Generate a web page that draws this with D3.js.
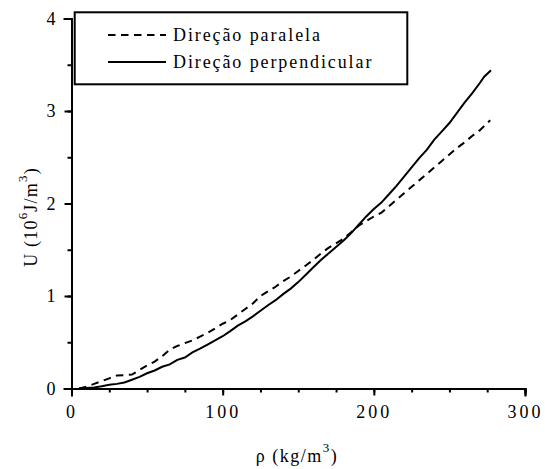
<!DOCTYPE html>
<html>
<head>
<meta charset="utf-8">
<script src="https://cdn.jsdelivr.net/npm/d3@7"></script>
<style>
  body { margin: 0; background: #fff; }
  text { font-family: "Liberation Serif", "Times New Roman", Times, serif; fill: #000; }
</style>
</head>
<body>
<div id="chart-area"></div>
<script>
// density (kg/m3) and energy U (10^6 J/m3)
var rhoParalela = [5, 10, 15, 20, 25, 30, 35, 40, 45, 50, 55, 60, 65, 70, 75, 80, 85, 90, 95, 100,
    105, 110, 115, 120, 125, 130, 135, 140, 145, 150, 155, 160, 165, 170, 175, 180, 185, 190, 195, 200,
    205, 210, 215, 220, 225, 230, 235, 240, 245, 250, 255, 260, 265, 270, 277];
var uParalela = [0.0, 0.02, 0.05, 0.08, 0.11, 0.14, 0.145, 0.15, 0.2, 0.25, 0.29, 0.35, 0.42, 0.46, 0.49, 0.52, 0.56, 0.6, 0.65, 0.7,
    0.74, 0.8, 0.86, 0.92, 1.0, 1.05, 1.1, 1.16, 1.21, 1.27, 1.33, 1.39, 1.46, 1.52, 1.57, 1.62, 1.69, 1.76, 1.81, 1.86,
    1.9, 1.97, 2.04, 2.11, 2.18, 2.25, 2.32, 2.39, 2.46, 2.53, 2.6, 2.66, 2.73, 2.79, 2.9];

var rhoPerp = [5, 10, 15, 20, 25, 30, 35, 40, 45, 50, 55, 60, 65, 70, 75, 80, 85, 90, 95, 100,
    105, 110, 115, 120, 125, 130, 135, 140, 145, 150, 155, 160, 165, 170, 175, 180, 185, 190, 195, 200,
    205, 210, 215, 220, 225, 230, 235, 240, 245, 250, 255, 260, 265, 270, 273, 277.5];
var uPerp = [0.0, 0.005, 0.012, 0.025, 0.04, 0.05, 0.065, 0.095, 0.125, 0.165, 0.195, 0.235, 0.26, 0.31, 0.335, 0.39, 0.43, 0.475, 0.52, 0.565,
    0.62, 0.68, 0.725, 0.78, 0.84, 0.9, 0.955, 1.02, 1.08, 1.15, 1.23, 1.31, 1.39, 1.46, 1.53, 1.6, 1.68, 1.77, 1.86, 1.94,
    2.01, 2.1, 2.19, 2.29, 2.39, 2.49, 2.58, 2.69, 2.78, 2.87, 2.98, 3.09, 3.19, 3.3, 3.37, 3.44];

var seriesNames = ["Direção paralela", "Direção perpendicular"];
var xTicks = [0, 100, 200, 300];
var yTicks = [0, 1, 2, 3, 4];

var svg = d3.select("#chart-area")
    .append("svg")
        .attr("width", 545)
        .attr("height", 469);

var x = d3.scaleLinear().domain([0, 300]).range([71.5, 525]);
var y = d3.scaleLinear().domain([0, 4]).range([388.5, 18.5]);

// minor ticks first, then major ones with labels
svg.append("g")
    .attr("transform", "translate(0,388.5)")
    .call(d3.axisBottom(x).tickValues(d3.range(0, 301, 25)).tickSize(4).tickFormat(""));
svg.append("g")
    .attr("transform", "translate(71.5,0)")
    .call(d3.axisLeft(y).tickValues(d3.range(0, 4.01, 0.5)).tickSize(4).tickFormat(""));

svg.append("g")
    .attr("transform", "translate(0,388.5)")
    .call(d3.axisBottom(x).tickValues(xTicks).tickSize(7).tickPadding(10).tickFormat(d3.format("d")));
svg.append("g")
    .attr("transform", "translate(71.5,0)")
    .call(d3.axisLeft(y).tickValues(yTicks).tickSize(7).tickPadding(6).tickFormat(d3.format("d")));

svg.selectAll(".domain, .tick line")
    .attr("stroke", "#000")
    .attr("stroke-width", 2);
svg.selectAll(".domain").attr("stroke-linecap", "square");
svg.selectAll(".tick text")
    .attr("font-size", 18)
    .attr("letter-spacing", "3px");

var line = d3.line()
    .x(function(d) { return x(d[0]); })
    .y(function(d) { return y(d[1]); });

var dataParalela = d3.zip(rhoParalela, uParalela);
var dataPerp = d3.zip(rhoPerp, uPerp);

svg.append("path")
    .datum(dataParalela)
    .attr("d", line)
    .attr("fill", "none")
    .attr("stroke", "#000")
    .attr("stroke-width", 2)
    .attr("stroke-dasharray", "7.5,5.5");

svg.append("path")
    .datum(dataPerp)
    .attr("d", line)
    .attr("fill", "none")
    .attr("stroke", "#000")
    .attr("stroke-width", 2);

// legend box
var legend = svg.append("g");
legend.append("rect")
    .attr("x", 74.7).attr("y", 12.3)
    .attr("width", 332.6).attr("height", 72)
    .attr("fill", "none")
    .attr("stroke", "#000")
    .attr("stroke-width", 2);

var legendY = [35, 62];
var dashes = ["7.5,5.5", null];
seriesNames.forEach(function(name, i) {
    legend.append("line")
        .attr("x1", 108).attr("x2", 166)
        .attr("y1", legendY[i]).attr("y2", legendY[i])
        .attr("stroke", "#000")
        .attr("stroke-width", 2)
        .attr("stroke-dasharray", dashes[i]);
    legend.append("text")
        .attr("x", 173)
        .attr("y", legendY[i] + 6)
        .attr("font-size", 18)
        .attr("letter-spacing", "1.9px")
        .text(name);
});

// axis titles
var xLabel = svg.append("text")
    .attr("x", 297)
    .attr("y", 462)
    .attr("text-anchor", "middle")
    .attr("font-size", 18)
    .attr("letter-spacing", "1.5px");
xLabel.append("tspan").text("ρ (kg/m");
xLabel.append("tspan").attr("dy", -10).attr("font-size", 13).text("3");
xLabel.append("tspan").attr("dy", 10).text(")");

var yLabel = svg.append("text")
    .attr("transform", "translate(37,217) rotate(-90)")
    .attr("text-anchor", "middle")
    .attr("font-size", 18)
    .attr("letter-spacing", "1.2px");
yLabel.append("tspan").text("U (10");
yLabel.append("tspan").attr("dy", -10).attr("font-size", 13).text("6");
yLabel.append("tspan").attr("dy", 10).text("J/m");
yLabel.append("tspan").attr("dy", -10).attr("font-size", 13).text("3");
yLabel.append("tspan").attr("dy", 10).text(")");
</script>
</body>
</html>
